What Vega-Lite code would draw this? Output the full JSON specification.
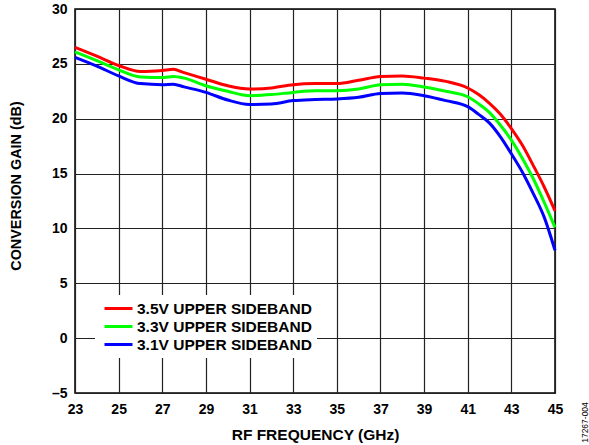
{
  "$schema": "https://vega.github.io/schema/vega-lite/v6.json",
  "autosize": {"type": "none"},
  "padding": {"left": 75, "top": 9, "right": 34, "bottom": 52},
  "width": 480,
  "height": 384,
  "background": "white",
  "config": {
    "font": "Liberation Sans",
    "view": {"stroke": "black", "strokeWidth": 1.5},
    "axis": {
      "labelFont": "Liberation Sans",
      "labelFontWeight": "bold",
      "labelFontSize": 14,
      "labelColor": "black",
      "titleFont": "Liberation Sans",
      "titleFontWeight": "bold",
      "titleColor": "black",
      "ticks": false,
      "domain": false,
      "grid": true,
      "gridColor": "#222222",
      "gridWidth": 1.2,
      "gridOpacity": 1
    }
  },
  "data": {
    "values": [
      {"series": "3.5V UPPER SIDEBAND", "freq": 23, "gain": 26.5},
      {"series": "3.5V UPPER SIDEBAND", "freq": 24, "gain": 25.7},
      {"series": "3.5V UPPER SIDEBAND", "freq": 25, "gain": 24.85},
      {"series": "3.5V UPPER SIDEBAND", "freq": 26, "gain": 24.3},
      {"series": "3.5V UPPER SIDEBAND", "freq": 27, "gain": 24.4},
      {"series": "3.5V UPPER SIDEBAND", "freq": 27.5, "gain": 24.5},
      {"series": "3.5V UPPER SIDEBAND", "freq": 28, "gain": 24.2},
      {"series": "3.5V UPPER SIDEBAND", "freq": 29, "gain": 23.6},
      {"series": "3.5V UPPER SIDEBAND", "freq": 30, "gain": 23.0},
      {"series": "3.5V UPPER SIDEBAND", "freq": 31, "gain": 22.7},
      {"series": "3.5V UPPER SIDEBAND", "freq": 32, "gain": 22.8},
      {"series": "3.5V UPPER SIDEBAND", "freq": 33, "gain": 23.1},
      {"series": "3.5V UPPER SIDEBAND", "freq": 34, "gain": 23.2},
      {"series": "3.5V UPPER SIDEBAND", "freq": 35, "gain": 23.2},
      {"series": "3.5V UPPER SIDEBAND", "freq": 36, "gain": 23.5},
      {"series": "3.5V UPPER SIDEBAND", "freq": 37, "gain": 23.85},
      {"series": "3.5V UPPER SIDEBAND", "freq": 38, "gain": 23.9},
      {"series": "3.5V UPPER SIDEBAND", "freq": 39, "gain": 23.7},
      {"series": "3.5V UPPER SIDEBAND", "freq": 40, "gain": 23.4},
      {"series": "3.5V UPPER SIDEBAND", "freq": 41, "gain": 22.8},
      {"series": "3.5V UPPER SIDEBAND", "freq": 41.5, "gain": 22.2},
      {"series": "3.5V UPPER SIDEBAND", "freq": 42, "gain": 21.4},
      {"series": "3.5V UPPER SIDEBAND", "freq": 42.5, "gain": 20.4},
      {"series": "3.5V UPPER SIDEBAND", "freq": 43, "gain": 19.1},
      {"series": "3.5V UPPER SIDEBAND", "freq": 43.5, "gain": 17.6},
      {"series": "3.5V UPPER SIDEBAND", "freq": 44, "gain": 15.75},
      {"series": "3.5V UPPER SIDEBAND", "freq": 44.5, "gain": 13.8},
      {"series": "3.5V UPPER SIDEBAND", "freq": 45, "gain": 11.6},
      {"series": "3.3V UPPER SIDEBAND", "freq": 23, "gain": 26.1},
      {"series": "3.3V UPPER SIDEBAND", "freq": 24, "gain": 25.3},
      {"series": "3.3V UPPER SIDEBAND", "freq": 25, "gain": 24.45},
      {"series": "3.3V UPPER SIDEBAND", "freq": 26, "gain": 23.8},
      {"series": "3.3V UPPER SIDEBAND", "freq": 27, "gain": 23.75},
      {"series": "3.3V UPPER SIDEBAND", "freq": 27.5, "gain": 23.85},
      {"series": "3.3V UPPER SIDEBAND", "freq": 28, "gain": 23.7},
      {"series": "3.3V UPPER SIDEBAND", "freq": 29, "gain": 23.0},
      {"series": "3.3V UPPER SIDEBAND", "freq": 30, "gain": 22.5},
      {"series": "3.3V UPPER SIDEBAND", "freq": 31, "gain": 22.1},
      {"series": "3.3V UPPER SIDEBAND", "freq": 32, "gain": 22.2},
      {"series": "3.3V UPPER SIDEBAND", "freq": 33, "gain": 22.4},
      {"series": "3.3V UPPER SIDEBAND", "freq": 34, "gain": 22.55},
      {"series": "3.3V UPPER SIDEBAND", "freq": 35, "gain": 22.55},
      {"series": "3.3V UPPER SIDEBAND", "freq": 36, "gain": 22.7},
      {"series": "3.3V UPPER SIDEBAND", "freq": 37, "gain": 23.1},
      {"series": "3.3V UPPER SIDEBAND", "freq": 38, "gain": 23.15},
      {"series": "3.3V UPPER SIDEBAND", "freq": 39, "gain": 22.9},
      {"series": "3.3V UPPER SIDEBAND", "freq": 40, "gain": 22.5},
      {"series": "3.3V UPPER SIDEBAND", "freq": 41, "gain": 22.0},
      {"series": "3.3V UPPER SIDEBAND", "freq": 41.5, "gain": 21.35},
      {"series": "3.3V UPPER SIDEBAND", "freq": 42, "gain": 20.55},
      {"series": "3.3V UPPER SIDEBAND", "freq": 42.5, "gain": 19.4},
      {"series": "3.3V UPPER SIDEBAND", "freq": 43, "gain": 18.05},
      {"series": "3.3V UPPER SIDEBAND", "freq": 43.5, "gain": 16.4},
      {"series": "3.3V UPPER SIDEBAND", "freq": 44, "gain": 14.55},
      {"series": "3.3V UPPER SIDEBAND", "freq": 44.5, "gain": 12.4},
      {"series": "3.3V UPPER SIDEBAND", "freq": 45, "gain": 10.1},
      {"series": "3.1V UPPER SIDEBAND", "freq": 23, "gain": 25.6},
      {"series": "3.1V UPPER SIDEBAND", "freq": 24, "gain": 24.8},
      {"series": "3.1V UPPER SIDEBAND", "freq": 25, "gain": 23.9},
      {"series": "3.1V UPPER SIDEBAND", "freq": 26, "gain": 23.2},
      {"series": "3.1V UPPER SIDEBAND", "freq": 27, "gain": 23.1},
      {"series": "3.1V UPPER SIDEBAND", "freq": 27.5, "gain": 23.15},
      {"series": "3.1V UPPER SIDEBAND", "freq": 28, "gain": 22.9},
      {"series": "3.1V UPPER SIDEBAND", "freq": 29, "gain": 22.4},
      {"series": "3.1V UPPER SIDEBAND", "freq": 30, "gain": 21.7},
      {"series": "3.1V UPPER SIDEBAND", "freq": 31, "gain": 21.3},
      {"series": "3.1V UPPER SIDEBAND", "freq": 32, "gain": 21.35},
      {"series": "3.1V UPPER SIDEBAND", "freq": 33, "gain": 21.65},
      {"series": "3.1V UPPER SIDEBAND", "freq": 34, "gain": 21.75},
      {"series": "3.1V UPPER SIDEBAND", "freq": 35, "gain": 21.8},
      {"series": "3.1V UPPER SIDEBAND", "freq": 36, "gain": 21.95},
      {"series": "3.1V UPPER SIDEBAND", "freq": 37, "gain": 22.3},
      {"series": "3.1V UPPER SIDEBAND", "freq": 38, "gain": 22.35},
      {"series": "3.1V UPPER SIDEBAND", "freq": 39, "gain": 22.1},
      {"series": "3.1V UPPER SIDEBAND", "freq": 40, "gain": 21.65},
      {"series": "3.1V UPPER SIDEBAND", "freq": 41, "gain": 21.1},
      {"series": "3.1V UPPER SIDEBAND", "freq": 41.5, "gain": 20.4},
      {"series": "3.1V UPPER SIDEBAND", "freq": 42, "gain": 19.6},
      {"series": "3.1V UPPER SIDEBAND", "freq": 42.5, "gain": 18.35},
      {"series": "3.1V UPPER SIDEBAND", "freq": 43, "gain": 16.8},
      {"series": "3.1V UPPER SIDEBAND", "freq": 43.5, "gain": 15.15},
      {"series": "3.1V UPPER SIDEBAND", "freq": 44, "gain": 13.2},
      {"series": "3.1V UPPER SIDEBAND", "freq": 44.5, "gain": 11.05},
      {"series": "3.1V UPPER SIDEBAND", "freq": 45, "gain": 8.0}
    ]
  },
  "layer": [
    {
      "mark": {"type": "line", "interpolate": "monotone", "strokeWidth": 3},
      "encoding": {
        "x": {
          "field": "freq",
          "type": "quantitative",
          "scale": {"domain": [23, 45], "nice": false, "zero": false},
          "axis": {
            "values": [23, 25, 27, 29, 31, 33, 35, 37, 39, 41, 43, 45],
            "labelPadding": 9,
            "labelFlush": false,
            "title": "RF FREQUENCY (GHz)",
            "titleFontSize": 15.5,
            "titleBaseline": "top",
            "titleY": 34
          }
        },
        "y": {
          "field": "gain",
          "type": "quantitative",
          "scale": {"domain": [-5, 30], "nice": false, "zero": false},
          "axis": {
            "values": [-5, 0, 5, 10, 15, 20, 25, 30],
            "labelPadding": 8,
            "labelFlush": false,
            "labelExpr": "datum.value < 0 ? '\u2013' + abs(datum.value) : datum.label",
            "title": "CONVERSION GAIN (dB)",
            "titleFontSize": 14.4,
            "titleX": -52,
            "titleY": 176.5
          }
        },
        "color": {
          "field": "series",
          "type": "nominal",
          "sort": ["3.5V UPPER SIDEBAND", "3.3V UPPER SIDEBAND", "3.1V UPPER SIDEBAND"],
          "scale": {
            "domain": ["3.5V UPPER SIDEBAND", "3.3V UPPER SIDEBAND", "3.1V UPPER SIDEBAND"],
            "range": ["#ff0000", "#00ff00", "#0000ff"]
          },
          "legend": {
            "title": null,
            "orient": "none",
            "legendX": 20,
            "legendY": 286,
            "fillColor": "white",
            "padding": 5,
            "symbolType": "M-2,0L2,0",
            "symbolStrokeWidth": 3,
            "symbolSize": 196,
            "symbolOffset": 10,
            "labelFont": "Liberation Sans",
            "labelFontWeight": "bold",
            "labelFontSize": 15.5,
            "labelColor": "black",
            "labelLimit": 400,
            "labelOffset": 10,
            "rowPadding": 1
          }
        }
      }
    },
    {
      "mark": {"type": "line", "opacity": 0},
      "encoding": {
        "x": {"field": "freq", "type": "quantitative"},
        "y": {
          "field": "gain",
          "type": "quantitative",
          "scale": {"domain": [-5, 30], "nice": false, "zero": false},
          "axis": {
            "orient": "right",
            "grid": false,
            "labels": false,
            "title": "17267-004",
            "titleFontWeight": "normal",
            "titleFontSize": 8.5,
            "titleAngle": 270,
            "titleAlign": "center",
            "titleBaseline": "middle",
            "titleX": 29,
            "titleY": 413
          }
        }
      }
    }
  ],
  "resolve": {"scale": {"y": "independent"}}
}
